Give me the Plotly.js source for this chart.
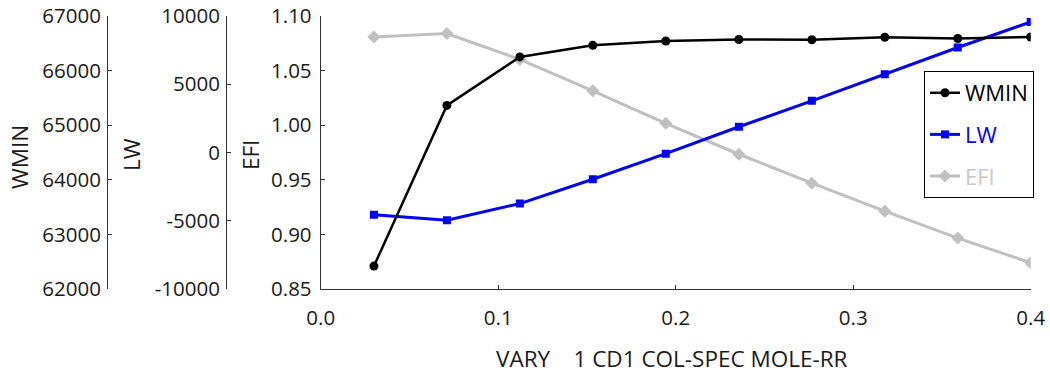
<!DOCTYPE html>
<html>
<head>
<meta charset="utf-8">
<script src="https://cdn.plot.ly/plotly-3.0.1.min.js"></script>
<style>html,body{margin:0;padding:0;background:#fff;}#chart{width:1050px;height:379px;}</style>
</head>
<body>
<div id="chart"></div>
<script>
// ---- data ----
var xVals = [0.03, 0.0711, 0.1122, 0.1533, 0.1944, 0.2356, 0.2767, 0.3178, 0.3589, 0.4];
var wmin = [62420, 65363, 66251, 66464, 66543, 66569, 66565, 66611, 66587, 66616];
var lw = [-4569, -4956, -3743, -1959, -88, 1886, 3787, 5738, 7690, 9561];
var efi = [1.0808, 1.0839, 1.0602, 1.0315, 1.0017, 0.9734, 0.9469, 0.9213, 0.8966, 0.874];
var wminTicks = [62000, 63000, 64000, 65000, 66000, 67000];
var wminTickText = ["62000", "63000", "64000", "65000", "66000", "67000"];
var lwTicks = [-10000, -5000, 0, 5000, 10000];
var lwTickText = ["-10000", "-5000", "0", "5000", "10000"];
var efiTicks = [0.85, 0.90, 0.95, 1.00, 1.05, 1.10];
var efiTickText = ["0.85", "0.90", "0.95", "1.00", "1.05", "1.10"];
var xTicks = [0, 0.1, 0.2, 0.3, 0.4];
var xTickText = ["0.0", "0.1", "0.2", "0.3", "0.4"];

var W = 1050, H = 379, T = 16, B = 90;
var plotH = H - T - B;
function px(x){ return x / W; }
function py(y){ return (H - B - y) / plotH; }

var FONT = "Open Sans, Noto Sans, sans-serif";
var tickFont = {family: FONT, size: 20.5, color: "#1a1a1a"};
var titleFont = {family: FONT, size: 22.5, color: "#1a1a1a"};

var traces = [
  {x: xVals, y: wmin, name: "WMIN", legendgroup: "a", yaxis: "y3", type: "scatter", mode: "lines+markers",
   line: {color: "#000000", width: 2.5}, marker: {symbol: "circle", size: 9, color: "#000000"}},
  {x: xVals, y: lw, name: '<span style="color:#0000ff">LW</span>', legendgroup: "b", yaxis: "y2", type: "scatter", mode: "lines+markers",
   line: {color: "#0000ff", width: 3}, marker: {symbol: "square", size: 8, color: "#0000ff"}},
  {x: xVals, y: efi, name: '<span style="color:#c8c8c8">EFI</span>', legendgroup: "c", yaxis: "y", type: "scatter", mode: "lines+markers",
   line: {color: "#c0c0c0", width: 3}, marker: {symbol: "diamond", size: 10, color: "#c0c0c0"}}
];

var axisCommon = {showline: true, linecolor: "#333333", linewidth: 1, ticks: "inside", ticklen: 4,
  tickcolor: "#333333", showgrid: false, zeroline: false, tickfont: tickFont, tickmode: "array"};

var layout = {
  width: W, height: H,
  margin: {l: 0, r: 0, t: T, b: B, pad: 0},
  paper_bgcolor: "#ffffff", plot_bgcolor: "#ffffff",
  showlegend: true,
  legend: {x: px(924), y: py(71), xanchor: "left", yanchor: "top",
    bordercolor: "#000000", borderwidth: 1, bgcolor: "#ffffff",
    font: {family: FONT, size: 22, color: "#000000"}, traceorder: "grouped", tracegroupgap: 10,
    itemwidth: 30},
  xaxis: Object.assign({}, axisCommon, {domain: [px(320.7), px(1030.7)], range: [0, 0.4],
    tickvals: xTicks, ticktext: xTickText, ticklabelstandoff: 10, anchor: "y"}),
  yaxis: Object.assign({}, axisCommon, {range: [0.85, 1.10], tickvals: efiTicks, ticktext: efiTickText,
    anchor: "x", ticklabelstandoff: 4}),
  yaxis2: Object.assign({}, axisCommon, {range: [-10000, 10000], tickvals: lwTicks, ticktext: lwTickText,
    overlaying: "y", anchor: "free", position: px(226), side: "left", ticklabelstandoff: 2}),
  yaxis3: Object.assign({}, axisCommon, {range: [62000, 67000], tickvals: wminTicks, ticktext: wminTickText,
    overlaying: "y", anchor: "free", position: px(107), side: "left", ticklabelstandoff: 2}),
  annotations: [
    {text: "WMIN", xref: "paper", yref: "paper", x: px(20), y: py(157), textangle: -90, showarrow: false,
     xanchor: "center", yanchor: "middle", font: titleFont},
    {text: "LW", xref: "paper", yref: "paper", x: px(131), y: py(155), textangle: -90, showarrow: false,
     xanchor: "center", yanchor: "middle", font: titleFont},
    {text: "EFI", xref: "paper", yref: "paper", x: px(250), y: py(155), textangle: -90, showarrow: false,
     xanchor: "center", yanchor: "middle", font: titleFont},
    {text: "VARY\u00a0\u00a0\u00a0 1 CD1 COL-SPEC MOLE-RR", xref: "paper", yref: "paper", x: px(672), y: py(358),
     showarrow: false, xanchor: "center", yanchor: "middle", font: titleFont}
  ]
};

Plotly.newPlot("chart", traces, layout, {displayModeBar: false, staticPlot: true});
</script>
</body>
</html>
